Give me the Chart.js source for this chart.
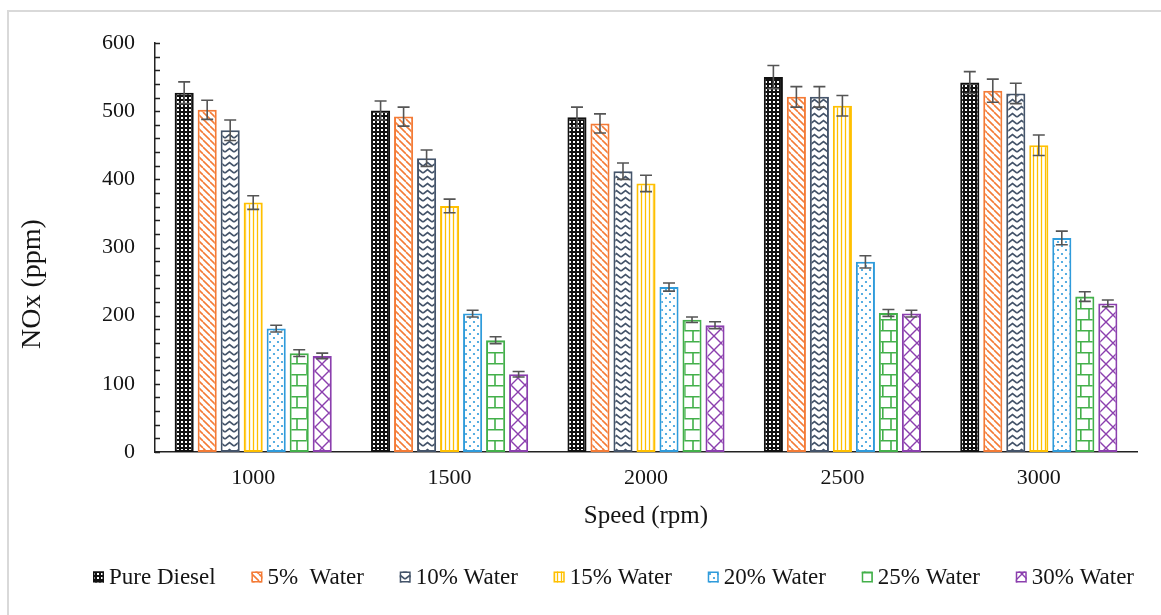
<!DOCTYPE html>
<html>
<head>
<meta charset="utf-8">
<script src="https://cdn.jsdelivr.net/npm/chart.js@4.4.1/dist/chart.umd.min.js"></script>
<style>
  html, body { margin: 0; padding: 0; background: #fff; }
  #wrap { width: 1161px; height: 615px; }
</style>
</head>
<body>
<div id="wrap"><canvas id="c" width="1161" height="615"></canvas></div>
<script>
// Engine speed categories
const speeds = ['1000', '1500', '2000', '2500', '3000'];
const yTickValues = [0, 100, 200, 300, 400, 500, 600];

// NOx emissions (ppm) per fuel blend
const pureDiesel = [527, 501, 491, 550, 542];
const water5     = [502, 492, 482, 521, 530];
const water10    = [472, 431, 412, 521, 526];
const water15    = [366, 361, 394, 508, 450];
const water20    = [181, 203, 242, 279, 314];
const water25    = [145, 164, 194, 204, 228];
const water30    = [141, 114, 186, 203, 218];

// Error bar half-heights (ppm)
const errPureDiesel = [16, 14, 15, 17, 16];
const errWater5     = [14, 14, 14, 15, 17];
const errWater10    = [15, 12, 12, 15, 15];
const errWater15    = [10, 10, 12, 15, 15];
const errWater20    = [5, 5, 6, 9, 10];
const errWater25    = [5, 5, 4, 5, 7];
const errWater30    = [4, 4, 5, 5, 5];

const seriesLabels = ['Pure Diesel', '5%  Water', '10% Water', '15% Water', '20% Water', '25% Water', '30% Water'];
const seriesValues = [pureDiesel, water5, water10, water15, water20, water25, water30];
const seriesErrors = [errPureDiesel, errWater5, errWater10, errWater15, errWater20, errWater25, errWater30];
const seriesColors = ['#111111', '#F47B36', '#44546A', '#FFC000', '#2F9BDB', '#43B04A', '#8B3FAE'];
const seriesFills  = ['grid', 'diag', 'zigzag', 'vlines', 'dots', 'brick', 'lattice'];

const FONT = '"Liberation Serif", "Times New Roman", serif';
const TEXT = '#141414';

// Hatch fills for the bars
function makePattern(kind, color) {
  const c = document.createElement('canvas');
  const g = c.getContext('2d');
  const size = { grid: [4, 4], diag: [7, 7], zigzag: [9, 7], vlines: [4, 4], dots: [8, 8], brick: [18, 22], lattice: [14, 14] }[kind];
  c.width = size[0]; c.height = size[1];
  const w = size[0], h = size[1];
  g.fillStyle = '#fff';
  g.fillRect(0, 0, w, h);
  g.strokeStyle = color;
  g.fillStyle = color;
  g.lineCap = 'butt';
  if (kind === 'grid') {
    g.fillStyle = color;
    g.fillRect(0, 0, w, h);
    g.fillStyle = '#fff';
    g.fillRect(1, 1, 2, 2);
  } else if (kind === 'diag') {
    g.lineWidth = 1.6;
    for (let x0 = -w; x0 <= w; x0 += w) {
      g.beginPath(); g.moveTo(x0, 0); g.lineTo(x0 + w, h); g.stroke();
    }
  } else if (kind === 'zigzag') {
    g.lineWidth = 1.7;
    g.beginPath(); g.moveTo(0, 5); g.lineTo(w / 2, 1.5); g.lineTo(w, 5); g.stroke();
  } else if (kind === 'vlines') {
    g.lineWidth = 1.3;
    g.beginPath(); g.moveTo(1.5, 0); g.lineTo(1.5, h); g.stroke();
  } else if (kind === 'dots') {
    g.beginPath(); g.arc(2, 2, 1.1, 0, Math.PI * 2); g.fill();
    g.beginPath(); g.arc(6, 6, 1.1, 0, Math.PI * 2); g.fill();
  } else if (kind === 'brick') {
    g.lineWidth = 1.6;
    g.beginPath();
    g.moveTo(0, 0.8); g.lineTo(w, 0.8);
    g.moveTo(0, 11.8); g.lineTo(w, 11.8);
    g.moveTo(9, 0); g.lineTo(9, 11);
    g.moveTo(0.8, 11); g.lineTo(0.8, h);
    g.stroke();
  } else if (kind === 'lattice') {
    g.lineWidth = 1.4;
    g.beginPath();
    g.moveTo(0, 0); g.lineTo(w, h);
    g.moveTo(w, 0); g.lineTo(0, h);
    g.stroke();
  }
  return g.createPattern(c, 'repeat');
}

const patterns = seriesFills.map((k, i) => makePattern(k, seriesColors[i]));

const datasets = seriesLabels.map((label, i) => ({
  label,
  data: seriesValues[i],
  backgroundColor: patterns[i],
  borderColor: seriesColors[i],
  borderWidth: 2,
  borderSkipped: false,
  categoryPercentage: 0.82,
  barPercentage: 0.83
}));

// Symmetric error bars on top of every bar
const errorBars = {
  id: 'errorBars',
  afterDatasetsDraw(chart) {
    const ctx = chart.ctx, y = chart.scales.y;
    ctx.save();
    ctx.strokeStyle = '#555555';
    ctx.lineWidth = 1.6;
    chart.data.datasets.forEach((ds, i) => {
      chart.getDatasetMeta(i).data.forEach((bar, j) => {
        const v = ds.data[j], e = seriesErrors[i][j];
        const yt = y.getPixelForValue(v + e), yb = y.getPixelForValue(v - e);
        const x = bar.x, half = 6;
        ctx.beginPath();
        ctx.moveTo(x, yt); ctx.lineTo(x, yb);
        ctx.moveTo(x - half, yt); ctx.lineTo(x + half, yt);
        ctx.moveTo(x - half, yb); ctx.lineTo(x + half, yb);
        ctx.stroke();
      });
    });
    ctx.restore();
  }
};

// Frame, inward y ticks, rotated y title and the legend row
const decorations = {
  id: 'decorations',
  beforeDraw(chart) {
    const ctx = chart.ctx;
    ctx.save();
    ctx.fillStyle = '#fff';
    ctx.fillRect(0, 0, chart.width, chart.height);
    ctx.strokeStyle = '#d9d9d9';
    ctx.lineWidth = 2;
    ctx.strokeRect(8, 11, chart.width + 20, chart.height + 20);
    ctx.restore();
  },
  afterDraw(chart) {
    const ctx = chart.ctx, y = chart.scales.y, area = chart.chartArea;
    ctx.save();
    // minor and major ticks pointing into the plot
    ctx.strokeStyle = '#222';
    ctx.lineWidth = 1.3;
    ctx.beginPath();
    for (let v = y.min; v <= y.max; v += 20) {
      const py = Math.round(y.getPixelForValue(v)) + 0.5;
      ctx.moveTo(area.left, py); ctx.lineTo(area.left + 5, py);
    }
    ctx.stroke();

    // y axis title
    ctx.fillStyle = TEXT;
    ctx.font = '28px ' + FONT;
    ctx.textAlign = 'center';
    ctx.textBaseline = 'middle';
    ctx.translate(33, 284);
    ctx.rotate(-Math.PI / 2);
    ctx.fillText('NOx (ppm)', 0, 0);
    ctx.setTransform(1, 0, 0, 1, 0, 0);

    // legend row spread between its two end points
    ctx.font = '23px ' + FONT;
    ctx.textAlign = 'left';
    ctx.textBaseline = 'middle';
    const box = 11, gapBoxText = 5, startX = 93, endX = 1134, cy = 577;
    const widths = chart.data.datasets.map(ds => ctx.measureText(ds.label).width);
    const used = widths.reduce((a, w) => a + box + gapBoxText + w, 0);
    const gap = (endX - startX - used) / (widths.length - 1);
    let x = startX;
    chart.data.datasets.forEach((ds, i) => {
      ctx.fillStyle = ds.backgroundColor;
      ctx.fillRect(x, cy - box / 2, box, box);
      ctx.strokeStyle = ds.borderColor;
      ctx.lineWidth = 1.5;
      ctx.strokeRect(x + 0.75, cy - box / 2 + 0.75, box - 1.5, box - 1.5);
      ctx.fillStyle = TEXT;
      ctx.fillText(ds.label, x + box + gapBoxText, cy + 1);
      x += box + gapBoxText + widths[i] + gap;
    });
    ctx.restore();
  }
};

new Chart(document.getElementById('c'), {
  type: 'bar',
  data: { labels: speeds, datasets },
  options: {
    responsive: false,
    devicePixelRatio: 1,
    animation: false,
    layout: { padding: { left: 0, top: 43, right: 24, bottom: 82 } },
    plugins: { legend: { display: false }, tooltip: { enabled: false } },
    scales: {
      x: {
        grid: { display: false, drawTicks: false },
        border: { display: true, color: '#222', width: 1.5 },
        ticks: { font: { family: FONT, size: 22 }, color: TEXT, padding: 13 },
        title: { display: true, text: 'Speed (rpm)', font: { family: FONT, size: 25 }, color: TEXT, padding: { top: 0, bottom: 2 } },
        afterFit(s) { s.height = 81; }
      },
      y: {
        min: 0,
        max: 600,
        afterBuildTicks(s) { s.ticks = yTickValues.map(v => ({ value: v })); },
        ticks: { font: { family: FONT, size: 22 }, color: TEXT, padding: 20 },
        grid: { display: false, drawTicks: false },
        border: { display: true, color: '#222', width: 1.5 },
        afterFit(s) { s.width = 155; }
      }
    }
  },
  plugins: [errorBars, decorations]
});
</script>
</body>
</html>
